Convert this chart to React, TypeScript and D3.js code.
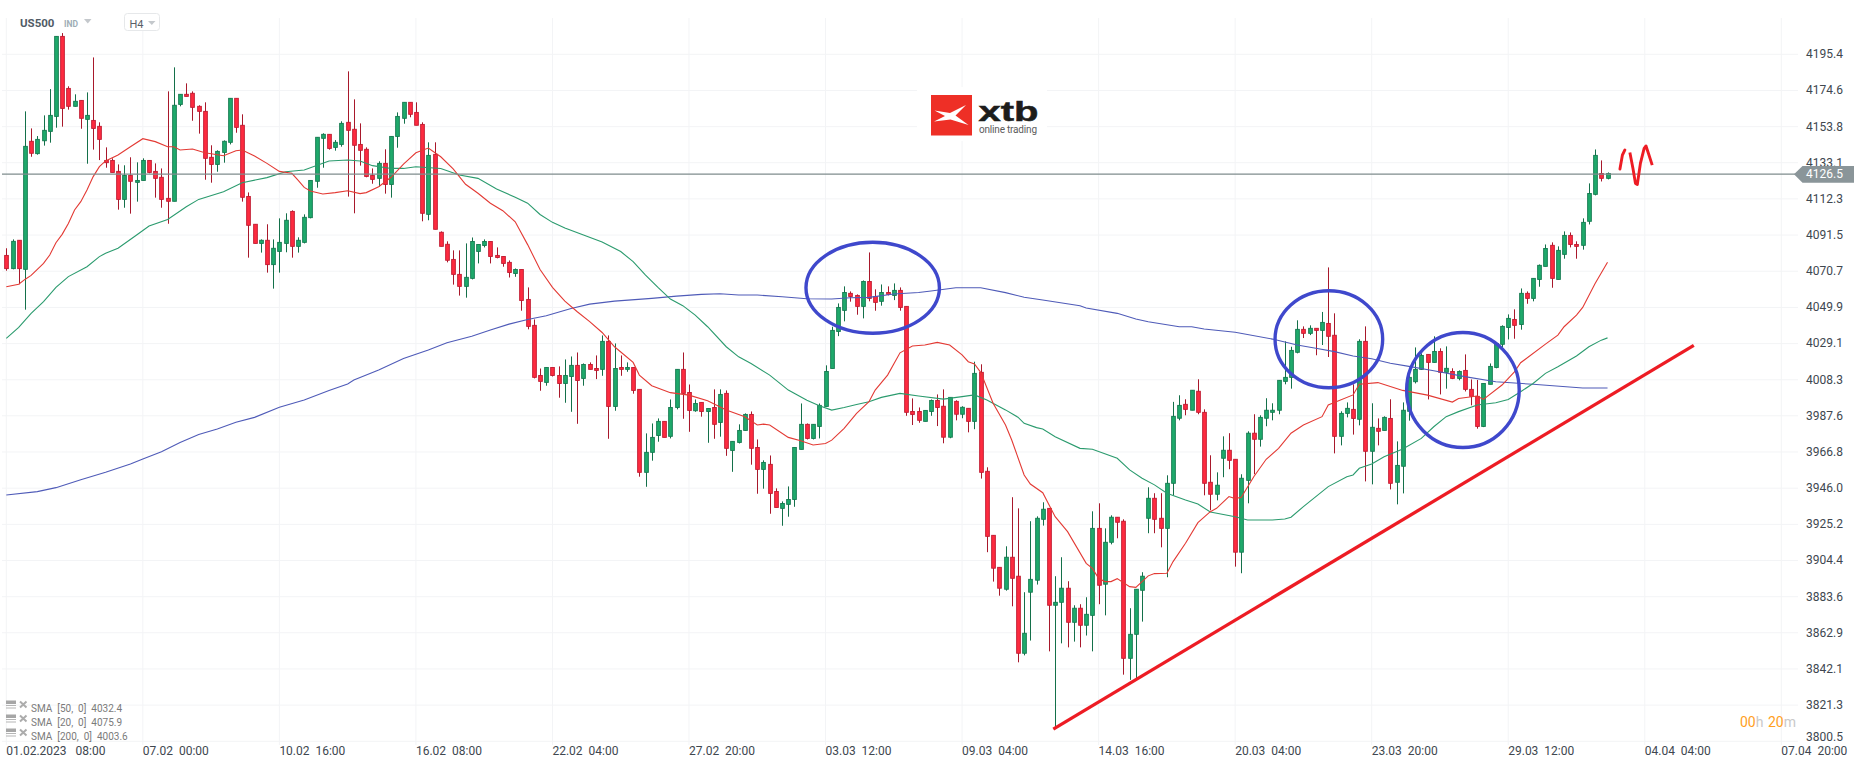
import * as d3 from "d3";
import {useEffect, useRef} from "react";

const width = 1866;
const height = 767;

const priceTicks = [4195.4, 4174.6, 4153.8, 4133.1, 4112.3, 4091.5, 4070.7, 4049.9, 4029.1, 4008.3, 3987.6, 3966.8, 3946.0, 3925.2, 3904.4, 3883.6, 3862.9, 3842.1, 3821.3, 3800.5];
const timeTicks = [0, 22, 44, 66, 88, 110, 132, 154, 176, 198, 220, 242, 264, 286];
const timeLabels = ["01.02.2023   08:00", "07.02  00:00", "10.02  16:00", "16.02  08:00", "22.02  04:00", "27.02  20:00", "03.03  12:00", "09.03  04:00", "14.03  16:00", "20.03  04:00", "23.03  20:00", "29.03  12:00", "04.04  04:00", "07.04  20:00"];

const lastPrice = 4126.5;
const smaLegend = ["SMA  [50,  0]  4032.4", "SMA  [20,  0]  4075.9", "SMA  [200,  0]  4003.6"];

const open = [
  4079.8,4072.2,4088.5,4071.8,4145.4,4138.3,4145.7,4151.1,4159.7,4205.7,
  4175.8,4165.5,4168.9,4158.0,4157.4,4154.0,4134.4,4134.4,4128.1,4112.0,
  4125.8,4121.8,4122.9,4134.4,4128.1,4124.7,4112.6,4110.9,4166.6,4172.4,
  4173.0,4165.5,4162.6,4136.2,4132.1,4139.0,4144.8,4170.1,4154.6,4113.7,
  4097.7,4086.7,4088.5,4074.5,4082.1,4086.7,4105.1,4085.0,4087.3,4101.5,
  4122.4,4147.1,4149.4,4141.9,4143.6,4156.3,4152.3,4143.6,4140.8,4125.8,
  4124.1,4132.7,4120.6,4148.2,4158.6,4167.8,4162.0,4155.1,4103.4,4137.9,
  4093.1,4086.2,4077.5,4068.9,4062.0,4066.6,4082.1,4085.5,4087.8,4079.8,
  4079.2,4075.8,4069.4,4071.7,4054.5,4039.6,4010.8,4006.8,4015.4,4010.8,
  4006.2,4010.2,4016.6,4009.1,4017.1,4014.8,4014.3,4030.4,3993.0,4015.4,
  4014.3,4015.4,4002.8,3955.1,3966.6,3976.3,3984.4,3975.8,3992.4,4014.3,
  4001.0,3990.5,3995.3,3990.1,3992.4,3983.8,4000.5,3967.7,3972.3,3979.2,
  3988.4,3969.4,3956.8,3959.7,3944.1,3934.4,3936.7,3939.5,3968.3,3982.7,
  3974.6,3981.5,3993.0,4014.8,4036.1,4048.2,4058.0,4056.8,4050.5,4064.8,
  4056.2,4053.4,4058.5,4056.8,4059.7,4050.5,3990.1,3990.1,3984.4,3990.1,
  3996.4,3993.1,3975.3,3995.9,3988.5,3991.9,3984.4,4012.6,3955.7,3918.9,
  3900.5,3887.9,3906.3,3895.4,3851.1,3886.2,3893.1,3928.1,3934.4,3878.7,
  3880.4,3888.5,3868.9,3877.0,3867.2,3872.9,3922.9,3890.8,3914.9,3929.3,
  3927.0,3848.2,3862.0,3887.3,3928.7,3940.2,3928.7,3922.9,3948.8,3986.2,
  3994.2,3990.8,4001.7,3989.6,3949.4,3942.5,3963.2,3967.8,3962.6,3909.2,
  3950.5,3977.6,3974.1,3986.2,3989.6,3990.8,4007.4,4009.7,4024.1,4037.3,
  4035.0,4037.9,4036.7,4040.7,4033.9,3975.8,3989.0,3991.3,3985.6,4030.4,
  3967.2,3980.4,3979.2,3986.1,3949.4,3958.6,3990.2,4007.2,4014.3,4022.9,
  4018.3,4024.6,4012.6,4013.1,4009.1,4013.7,4002.8,3998.8,3981.5,4005.7,
  4015.4,4028.7,4038.4,4043.0,4040.1,4058.0,4055.1,4066.0,4073.5,4085.6,
  4066.0,4080.4,4091.3,4086.1,4085.6,4099.4,4114.9,4126.9,4124.1,
];

const close = [
  4072.2,4087.9,4072.2,4142.5,4138.5,4146.5,4151.7,4160.3,4205.7,4164.3,
  4165.5,4168.4,4158.6,4160.3,4152.8,4146.5,4133.1,4127.5,4112.0,4125.8,
  4122.4,4122.9,4134.4,4127.5,4124.1,4112.0,4110.9,4166.1,4172.4,4171.2,
  4164.9,4162.6,4135.6,4132.1,4139.6,4145.4,4170.1,4153.4,4113.2,4097.1,
  4086.7,4088.5,4074.5,4083.9,4087.3,4100.0,4085.0,4088.5,4101.7,4122.9,
  4147.7,4149.4,4141.3,4144.8,4155.7,4151.7,4143.1,4140.2,4125.2,4123.5,
  4132.7,4120.6,4148.2,4159.7,4167.8,4160.9,4154.6,4104.0,4137.3,4094.8,
  4085.0,4077.0,4068.9,4062.0,4067.2,4087.8,4086.1,4087.8,4079.2,4078.6,
  4075.2,4070.0,4071.7,4053.9,4039.0,4009.7,4007.4,4015.4,4010.8,4006.2,
  4010.8,4016.6,4007.9,4017.1,4014.3,4013.7,4030.4,3993.0,4014.8,4014.3,
  4015.4,4002.2,3955.1,3966.6,3975.2,3984.4,3975.2,3992.4,4014.3,4000.5,
  3990.7,3994.7,3990.1,3991.8,3982.7,3999.9,3968.9,3972.9,3979.2,3988.4,
  3968.9,3956.8,3960.8,3943.0,3934.9,3937.2,3939.5,3969.4,3982.7,3974.6,
  3982.7,3993.6,4013.1,4036.7,4049.9,4058.5,4056.2,4050.5,4064.8,4055.1,
  4052.8,4058.5,4057.4,4059.7,4049.9,3989.6,3988.4,3985.0,3990.7,3996.4,
  3992.4,3975.3,3998.2,3988.5,3992.5,3984.4,4012.0,3955.1,3918.3,3900.0,
  3888.5,3906.3,3894.2,3851.1,3862.6,3893.6,3928.7,3933.9,3878.7,3880.4,
  3888.5,3868.9,3877.0,3867.2,3873.5,3922.9,3890.2,3914.9,3929.3,3926.4,
  3848.2,3862.0,3887.9,3895.4,3940.2,3928.1,3922.9,3948.8,3987.3,3993.6,
  3991.3,4002.3,3989.6,3948.8,3942.5,3947.7,3967.8,3962.0,3909.2,3951.7,
  3977.6,3974.1,3986.7,3990.8,3990.8,4008.0,4009.7,4025.2,4037.3,4035.0,
  4037.9,4036.7,4041.3,4033.3,3975.8,3989.0,3991.9,3986.1,4030.4,3967.2,
  3981.0,3978.7,3986.7,3948.8,3959.1,3990.8,4009.7,4014.3,4022.3,4018.3,
  4024.6,4012.6,4014.9,4009.1,4013.1,4002.8,3998.8,3981.5,4006.2,4016.0,
  4029.2,4039.0,4043.6,4039.6,4058.0,4055.1,4066.6,4074.1,4083.8,4066.6,
  4082.7,4091.3,4086.1,4085.0,4098.8,4115.4,4137.3,4124.1,4126.9,
];

const high = [
  4083.9,4089.0,4088.5,4162.6,4152.8,4148.4,4160.3,4175.4,4205.7,4207.6,
  4177.0,4172.4,4168.9,4173.5,4193.6,4156.3,4141.9,4135.6,4132.1,4131.6,
  4136.2,4133.3,4135.6,4134.4,4132.7,4129.8,4174.1,4187.9,4172.4,4178.7,
  4174.1,4166.1,4167.8,4143.1,4140.2,4145.9,4170.1,4170.1,4160.9,4116.0,
  4097.7,4089.0,4097.7,4089.0,4101.1,4104.0,4105.7,4090.2,4103.4,4122.9,
  4147.7,4150.0,4149.4,4146.1,4156.9,4185.6,4169.5,4155.7,4141.9,4129.8,
  4133.9,4140.8,4148.2,4162.0,4167.8,4167.8,4167.8,4156.3,4144.8,4144.8,
  4093.6,4087.9,4082.7,4082.7,4086.7,4090.1,4086.1,4089.0,4087.8,4084.4,
  4079.2,4076.9,4072.3,4071.7,4061.4,4043.0,4014.8,4015.4,4015.4,4016.0,
  4020.0,4021.7,4024.0,4017.7,4018.3,4022.3,4033.8,4033.8,4029.2,4022.3,
  4018.3,4015.4,4002.8,3977.5,3983.2,3986.1,3984.4,3997.0,4014.3,4024.0,
  4005.6,3997.0,3995.3,3991.8,4002.8,4002.8,4002.2,3972.9,3982.7,3989.0,
  3990.1,3974.0,3962.0,3964.8,3945.9,3938.4,3947.0,3969.4,3994.7,3983.2,
  3982.7,3994.7,4016.6,4038.8,4052.2,4062.0,4059.1,4057.4,4065.4,4081.5,
  4060.3,4063.1,4062.0,4063.7,4061.4,4050.5,3997.6,3992.4,3990.7,3997.0,
  3999.9,4002.8,3998.2,3996.5,3993.1,3991.9,4018.7,4017.2,3958.0,3918.9,
  3900.5,3912.6,3940.8,3934.4,3886.2,3927.0,3929.8,3937.9,3934.4,3895.4,
  3906.3,3892.5,3878.7,3879.3,3883.3,3932.7,3937.3,3922.9,3930.4,3929.3,
  3928.1,3877.0,3887.9,3897.7,3946.5,3943.1,3943.1,3953.4,3995.6,3999.4,
  3997.1,4002.3,4008.6,3991.3,3964.9,3955.1,3975.8,3977.6,3962.6,3954.0,
  3978.7,3988.5,3987.9,3997.7,3994.8,4008.0,4030.4,4027.3,4042.5,4039.0,
  4039.6,4037.9,4047.3,4072.9,4046.5,3990.2,3995.3,4005.7,4031.6,4039.0,
  3994.8,3986.1,3987.3,3997.1,3972.9,3995.3,4010.7,4026.9,4023.5,4022.9,
  4033.3,4026.4,4027.5,4014.9,4013.7,4022.9,4008.5,4008.2,4006.2,4017.7,
  4029.2,4039.6,4045.9,4048.8,4060.8,4059.1,4066.6,4074.6,4086.1,4087.3,
  4085.0,4093.6,4093.0,4087.9,4101.1,4121.2,4140.7,4134.4,4127.5,
];

const low = [
  4071.0,4071.8,4063.2,4048.6,4136.5,4137.7,4142.9,4144.6,4153.2,4153.8,
  4163.6,4165.3,4152.6,4132.5,4140.6,4134.6,4130.2,4127.5,4106.1,4107.2,
  4103.8,4110.7,4122.9,4127.0,4113.0,4107.2,4098.0,4110.9,4165.5,4171.2,
  4157.2,4149.8,4123.3,4121.6,4127.9,4133.1,4143.6,4150.3,4110.7,4078.5,
  4086.7,4081.4,4069.9,4060.7,4069.9,4081.6,4078.5,4081.4,4086.7,4101.1,
  4118.7,4130.2,4140.6,4140.0,4142.3,4113.6,4104.0,4131.4,4124.7,4121.0,
  4119.3,4115.3,4113.0,4141.7,4155.5,4159.2,4154.6,4099.4,4100.0,4094.8,
  4085.0,4075.8,4063.0,4056.7,4055.5,4066.0,4075.2,4084.4,4075.2,4078.1,
  4073.3,4067.1,4067.5,4048.0,4037.3,4009.1,4002.0,4004.9,4010.2,3998.0,
  3995.1,3989.9,3983.0,4004.9,4014.3,4008.7,4010.6,3974.4,3990.5,4010.6,
  4012.9,4000.3,3952.6,3946.8,3961.8,3972.7,3975.2,3974.6,3991.3,3985.9,
  3978.4,3989.9,3987.1,3972.1,3974.4,3975.6,3964.6,3955.4,3971.7,3979.0,
  3959.5,3942.8,3945.7,3931.3,3934.9,3924.4,3929.6,3935.3,3968.3,3974.0,
  3974.0,3974.6,3993.0,4014.8,4033.4,4041.9,4053.2,4045.7,4043.6,4053.4,
  4048.0,4050.9,4056.8,4054.1,4048.0,3987.6,3982.3,3983.6,3984.4,3987.6,
  3981.7,3971.8,3974.7,3985.0,3986.2,3978.1,3979.9,3951.5,3909.2,3892.3,
  3884.2,3887.1,3878.1,3845.9,3849.9,3858.4,3890.6,3924.5,3852.2,3808.9,
  3856.8,3854.5,3857.8,3854.5,3861.3,3852.2,3879.3,3872.9,3913.7,3917.2,
  3838.8,3835.8,3836.7,3869.3,3920.1,3920.1,3912.0,3894.8,3941.9,3985.0,
  3987.9,3990.8,3988.5,3941.9,3933.3,3939.0,3952.3,3956.9,3900.9,3897.1,
  3937.3,3954.0,3969.9,3981.6,3985.0,3988.5,4005.7,4003.2,4023.5,4032.3,
  4034.0,4022.4,4028.3,4021.4,3966.0,3970.6,3986.7,3976.8,3982.1,3949.9,
  3948.2,3970.6,3979.2,3945.3,3936.7,3943.0,3984.8,4006.2,4014.0,3997.0,
  4018.1,3999.9,4003.2,4008.7,4008.0,4001.6,3993.6,3980.2,3981.1,4005.7,
  4014.9,4026.9,4031.5,4031.9,4037.1,4052.0,4053.4,4061.8,4073.5,4061.2,
  4066.0,4077.9,4084.4,4077.9,4083.1,4097.6,4114.3,4122.3,4123.5,
];

// [bar, price]
const sma20: [number, number][] = [
  [0,4061.8],[2,4063.2],[3,4066.0],[4,4068.3],[6,4075.2],[7,4080.0],[8,4087.1],[9,4091.9],[10,4098.2],[11,4105.9],
  [12,4110.7],[13,4117.4],[14,4125.1],[15,4130.8],[16,4134.1],[18,4137.5],[20,4142.3],[22,4146.9],[24,4145.2],[26,4142.3],
  [27,4142.3],[28,4140.4],[30,4141.0],[32,4138.8],[35,4137.1],[37,4140.0],[38,4140.4],[40,4136.9],[42,4132.7],[44,4128.1],
  [46,4127.0],[47,4123.1],[48,4118.9],[49,4116.8],[51,4115.1],[53,4115.9],[55,4117.0],[57,4115.3],[58,4115.9],[60,4119.3],
  [62,4124.7],[64,4132.3],[66,4138.8],[68,4141.5],[70,4136.5],[72,4129.5],[74,4120.7],[76,4115.5],[78,4109.8],[80,4105.5],
  [82,4099.1],[84,4086.0],[86,4071.7],[88,4061.4],[90,4053.5],[92,4047.4],[94,4041.7],[96,4035.5],[98,4027.3],[101,4018.3],
  [102,4011.0],[104,4004.9],[107,4000.9],[110,3999.5],[113,3996.3],[116,3990.9],[119,3987.1],[121,3982.3],[122,3982.8],[123,3982.3],
  [126,3975.2],[128,3973.3],[130,3970.8],[132,3971.7],[133,3973.6],[135,3980.4],[137,3989.0],[139,3995.7],[140,4002.4],[142,4011.0],
  [144,4023.8],[146,4027.7],[148,4028.3],[150,4029.8],[152,4028.3],[154,4022.6],[155,4018.7],[156,4017.4],[157,4012.6],[159,3994.8],
  [161,3982.3],[162,3973.7],[164,3953.6],[165,3948.4],[167,3943.4],[169,3929.6],[171,3921.0],[174,3902.8],[175,3899.9],[176,3894.2],
  [177,3892.3],[178,3892.3],[179,3894.0],[181,3889.4],[182,3889.0],[184,3895.6],[185,3896.9],[187,3897.1],[188,3903.8],[190,3914.3],
  [192,3926.2],[194,3932.5],[195,3934.4],[197,3941.2],[198,3940.0],[199,3940.8],[201,3952.6],[203,3962.6],[205,3968.9],[207,3977.6],
  [209,3982.3],[212,3987.1],[213,3993.8],[217,3999.6],[218,4005.7],[221,4006.7],[223,4004.4],[225,4002.2],[229,3999.5],[233,3995.5],
  [234,3997.6],[237,3999.0],[238,3997.0],[241,4005.3],[243,4012.9],[244,4018.1],[248,4028.8],[250,4034.0],[251,4038.8],[253,4045.5],
  [254,4049.9],[256,4063.7],[258,4075.9],
];

const sma50: [number, number][] = [
  [0,4032.1],[2,4038.4],[4,4046.5],[6,4053.2],[8,4061.4],[10,4067.6],[13,4073.3],[15,4079.1],[16,4081.0],[18,4083.9],
  [21,4091.5],[23,4096.7],[26,4100.5],[29,4107.8],[31,4112.0],[35,4116.4],[38,4121.6],[42,4124.5],[45,4127.9],[48,4128.9],
  [52,4134.1],[55,4134.6],[57,4134.1],[59,4131.4],[62,4129.8],[64,4129.8],[66,4130.8],[70,4129.8],[73,4126.0],[76,4124.1],
  [79,4118.0],[82,4113.2],[84,4109.8],[86,4103.3],[88,4098.8],[90,4095.6],[93,4091.5],[96,4087.5],[99,4082.0],[101,4076.2],
  [103,4068.5],[105,4061.4],[107,4054.7],[109,4050.9],[111,4045.5],[113,4038.8],[116,4027.3],[118,4021.5],[120,4017.7],[123,4011.0],
  [126,4002.4],[129,3996.6],[131,3993.4],[133,3990.9],[135,3992.4],[137,3994.1],[139,3995.7],[141,3998.2],[144,4000.5],[147,3999.0],
  [151,3997.2],[154,3998.6],[156,3999.6],[158,3996.7],[161,3991.0],[163,3986.8],[164,3983.3],[166,3980.8],[167,3980.0],[169,3975.6],
  [173,3968.9],[175,3968.4],[179,3963.2],[181,3956.5],[183,3951.7],[185,3947.9],[187,3943.1],[190,3939.2],[192,3936.9],[194,3932.3],
  [198,3929.6],[200,3927.7],[204,3927.7],[206,3928.3],[207,3929.3],[209,3935.4],[213,3946.9],[216,3952.6],[217,3953.6],[218,3957.4],
  [220,3959.9],[222,3964.1],[225,3968.5],[228,3974.6],[230,3981.3],[232,3987.1],[234,3990.0],[237,3993.8],[240,3995.1],[242,3997.0],
  [244,4001.4],[246,4006.2],[248,4012.0],[250,4015.8],[253,4022.0],[255,4027.3],[257,4031.1],[258,4032.4],
];

const sma200: [number, number][] = [
  [0,3942.1],[5,3944.0],[8,3946.3],[12,3950.9],[16,3955.1],[20,3959.9],[22,3962.8],[25,3967.0],[28,3972.2],[31,3976.8],
  [34,3980.0],[37,3983.9],[40,3986.7],[44,3992.5],[48,3996.7],[52,4002.1],[55,4005.9],[56,4008.2],[60,4013.9],[64,4020.6],
  [68,4025.4],[71,4029.6],[75,4033.3],[78,4036.9],[81,4040.3],[84,4043.0],[87,4045.1],[91,4049.3],[94,4051.8],[98,4053.5],
  [104,4055.1],[108,4056.4],[112,4057.4],[115,4057.8],[118,4057.0],[121,4057.0],[125,4056.0],[129,4054.9],[133,4054.7],[136,4055.5],
  [139,4055.7],[143,4057.6],[147,4058.5],[149,4059.3],[153,4061.2],[157,4061.2],[161,4058.4],[164,4055.7],[167,4054.2],[173,4050.9],
  [174,4049.6],[179,4046.5],[182,4043.2],[184,4041.7],[189,4038.8],[191,4038.8],[193,4037.5],[198,4035.6],[204,4031.7],[208,4028.3],
  [211,4026.4],[214,4024.5],[217,4022.0],[220,4020.4],[223,4017.8],[226,4016.0],[230,4013.5],[235,4010.1],[240,4007.2],[246,4005.7],
  [254,4003.6],[258,4003.6],
];

// hand drawn marks, also in [bar, price]
const trendLine: [number, number][] = [[168.7, 3807.5], [271.9, 4028.1]];
const squiggleUp: [number, number][] = [[260.0, 4129.4], [260.4, 4137.5], [260.8, 4140.4]];
const squiggleDown: [number, number][] = [[261.6, 4139.0], [262.1, 4129.8], [262.5, 4121.2], [262.8, 4120.6], [263.3, 4132.7], [263.9, 4141.3], [264.2, 4142.7], [264.6, 4138.4], [265.2, 4131.7]];
const circleBar = [139.6, 213.1, 234.7];
const circlePrice = [4061.2, 4031.6, 4002.4];
const circleBarRadius = [10.75, 8.67, 9.07];
const circlePriceRadius = [26.15, 27.9, 33.05];

const x = d3.scaleLinear().domain([0, 286]).range([6.3, 1781.3]);
const y = d3.scaleLinear().domain([3800.5, 4195.4]).range([741.3, 54.3]);

const UP = {fill: "#1fa96b", stroke: "#13794f", wick: "#14704a"};
const DOWN = {fill: "#fd2b40", stroke: "#c01a30", wick: "#a8182b"};
const font = "Roboto, sans-serif";

export default function App() {
  const svgRef = useRef<SVGSVGElement | null>(null);

  useEffect(() => {
    const svg = d3.select(svgRef.current);
    svg.selectAll("*").remove();

    // grid
    const grid = svg.append("g").attr("stroke", "#f3f4f6").attr("stroke-width", 1);
    grid.selectAll("line.h").data(priceTicks).enter().append("line").attr("class", "h")
        .attr("x1", 2).attr("x2", 1798)
        .attr("y1", d => y(d)).attr("y2", d => y(d));
    grid.selectAll("line.v").data(timeTicks).enter().append("line").attr("class", "v")
        .attr("x1", d => x(d)).attr("x2", d => x(d))
        .attr("y1", 18).attr("y2", 745);

    // logo sits on a white patch over the grid
    const logo = svg.append("g");
    logo.append("rect").attr("x", 917).attr("y", 87).attr("width", 130).attr("height", 54).attr("fill", "#fff");
    logo.append("rect").attr("x", 931).attr("y", 95).attr("width", 41).attr("height", 40.5).attr("fill", "#ee2f26");
    logo.append("path").attr("d", "M934.5 110.5 L950 113 L966 105 L955.5 115.5 L968.5 125 L950.5 119.5 L934 121.5 L945 116 Z").attr("fill", "#fff");
    logo.append("text").attr("x", 978.5).attr("y", 121).attr("font-family", "'Liberation Sans', sans-serif").attr("font-weight", 700)
        .attr("font-size", 28).attr("textLength", 60).attr("lengthAdjust", "spacingAndGlyphs")
        .attr("fill", "#1d1d1b").attr("stroke", "#1d1d1b").attr("stroke-width", 0.5).text("xtb");
    logo.append("text").attr("x", 979).attr("y", 132.5).attr("font-family", font).attr("font-size", 10)
        .attr("textLength", 58).attr("fill", "#5c5c5c").text("online trading");

    // candles
    const bars = d3.range(open.length);
    const candles = svg.append("g");
    candles.selectAll("line").data(bars).enter().append("line")
        .attr("x1", i => Math.round(x(i)) + 0.5).attr("x2", i => Math.round(x(i)) + 0.5)
        .attr("y1", i => y(high[i])).attr("y2", i => y(low[i]))
        .attr("stroke", i => close[i] >= open[i] ? UP.wick : DOWN.wick)
        .attr("stroke-width", 1);
    candles.selectAll("rect").data(bars).enter().append("rect")
        .attr("x", i => Math.round(x(i)) + 0.5 - 1.85)
        .attr("width", 3.7)
        .attr("y", i => y(Math.max(open[i], close[i])))
        .attr("height", i => Math.max(1, Math.abs(y(open[i]) - y(close[i]))))
        .attr("fill", i => close[i] >= open[i] ? UP.fill : DOWN.fill)
        .attr("stroke", i => close[i] >= open[i] ? UP.stroke : DOWN.stroke)
        .attr("stroke-width", 0.9);

    // moving averages
    const line = d3.line<[number, number]>().x(d => x(d[0])).y(d => y(d[1]));
    const smaLines: [[number, number][], string][] = [[sma200, "#4f5bb8"], [sma50, "#2b9b6e"], [sma20, "#e33a34"]];
    smaLines.forEach(([pts, color]) => {
      svg.append("path").attr("d", line(pts)).attr("fill", "none").attr("stroke", color).attr("stroke-width", 1.1);
    });

    // last price line
    svg.append("line").attr("x1", 2).attr("x2", 1796)
        .attr("y1", y(lastPrice)).attr("y2", y(lastPrice))
        .attr("stroke", "#7f8c8d").attr("stroke-width", 1.2);

    // annotations
    const note = svg.append("g").attr("fill", "none");
    note.selectAll("ellipse").data(circleBar).enter().append("ellipse")
        .attr("cx", d => x(d))
        .attr("cy", (_, i) => y(circlePrice[i]))
        .attr("rx", (_, i) => x(circleBarRadius[i]) - x(0))
        .attr("ry", (_, i) => y(4000 - circlePriceRadius[i]) - y(4000))
        .attr("stroke", "#3f48cc").attr("stroke-width", 3.4);
    note.append("path").attr("d", line(trendLine)).attr("stroke", "#ed1c24").attr("stroke-width", 3.3);
    note.append("path").attr("d", line(squiggleUp)).attr("stroke", "#ed1c24").attr("stroke-width", 2.9).attr("stroke-linecap", "round");
    note.append("path").attr("d", line(squiggleDown)).attr("stroke", "#ed1c24").attr("stroke-width", 2.9).attr("stroke-linejoin", "round");

    // price axis
    const yAxis = svg.append("g").attr("transform", "translate(1806,0)")
        .call(d3.axisRight(y).tickValues(priceTicks).tickSize(0).tickPadding(0).offset(0).tickFormat(d3.format(".1f") as any));
    yAxis.select(".domain").remove();
    yAxis.selectAll("text").attr("font-family", font).attr("font-size", 12).attr("fill", "#40474f")
        .attr("y", d => d === 3800.5 ? -4 : 0);

    // time axis
    const xAxis = svg.append("g").attr("transform", "translate(0,746)")
        .call(d3.axisBottom(x).tickValues(timeTicks).tickSize(0).tickPadding(0).offset(0)
            .tickFormat((_, i) => timeLabels[i]));
    xAxis.select(".domain").remove();
    xAxis.selectAll("text").attr("font-family", font).attr("font-size", 12).attr("fill", "#40474f")
        .attr("text-anchor", "start").style("white-space", "pre");

    // last price tag
    svg.append("path").attr("d", `M1794 ${y(lastPrice)} L1802.5 166 L1854 166 L1854 182.7 L1802.5 182.7 Z`).attr("fill", "#8a9599");
    svg.append("text").attr("x", 1806).attr("y", y(lastPrice)).attr("dy", "0.36em")
        .attr("font-family", font).attr("font-size", 12).attr("fill", "#fff").text(lastPrice.toFixed(1));

    // header
    svg.append("text").attr("x", 20).attr("y", 27).attr("font-family", font).attr("font-weight", 700).attr("font-size", 11.5).attr("fill", "#505b66").text("US500");
    svg.append("text").attr("x", 64).attr("y", 26.5).attr("font-family", font).attr("font-weight", 700).attr("font-size", 8.5).attr("fill", "#9eadb5").text("IND");
    svg.append("path").attr("d", "M84 19 L91.5 19 L87.8 23.5 Z").attr("fill", "#c4c8cc");
    svg.append("rect").attr("x", 124.5).attr("y", 13.5).attr("width", 35).attr("height", 17).attr("rx", 3).attr("fill", "#fff").attr("stroke", "#e6e8ea");
    svg.append("text").attr("x", 129.5).attr("y", 27.5).attr("font-family", font).attr("font-size", 11).attr("fill", "#5a6068").text("H4");
    svg.append("path").attr("d", "M148 21 L155.5 21 L151.8 25 Z").attr("fill", "#c4c8cc");

    // indicator legend
    const legend = svg.append("g").selectAll("g").data(smaLegend).enter().append("g")
        .attr("transform", (_, i) => `translate(0,${704 + i * 14})`);
    legend.append("rect").attr("x", 6).attr("y", -3.5).attr("width", 10).attr("height", 3.5).attr("fill", "#a6a6a6");
    legend.append("path").attr("d", "M6 1.5 H16 M6 4 H16").attr("stroke", "#b5b5b5").attr("stroke-width", 1.2);
    legend.append("path").attr("d", "M20 -2.5 L26.5 3.5 M26.5 -2.5 L20 3.5").attr("stroke", "#acacac").attr("stroke-width", 2);
    legend.append("text").attr("x", 31).attr("y", 7.5).attr("font-family", font).attr("font-size", 10).attr("fill", "#7b7b7b")
        .style("white-space", "pre").text(d => d);

    // candle timer
    const timer = svg.append("text").attr("y", 727).attr("font-family", font).attr("font-size", 14);
    timer.append("tspan").attr("x", 1740).attr("fill", "#ffa01e").text("00");
    timer.append("tspan").attr("fill", "#c9c9c9").text("h");
    timer.append("tspan").attr("x", 1768).attr("fill", "#ffa01e").text("20");
    timer.append("tspan").attr("fill", "#c9c9c9").text("m");
  }, []);

  return (
      <svg ref={svgRef} width={width} height={height}
           style={{position: "absolute", left: 0, top: 0, background: "#fff"}}></svg>
  );
}
